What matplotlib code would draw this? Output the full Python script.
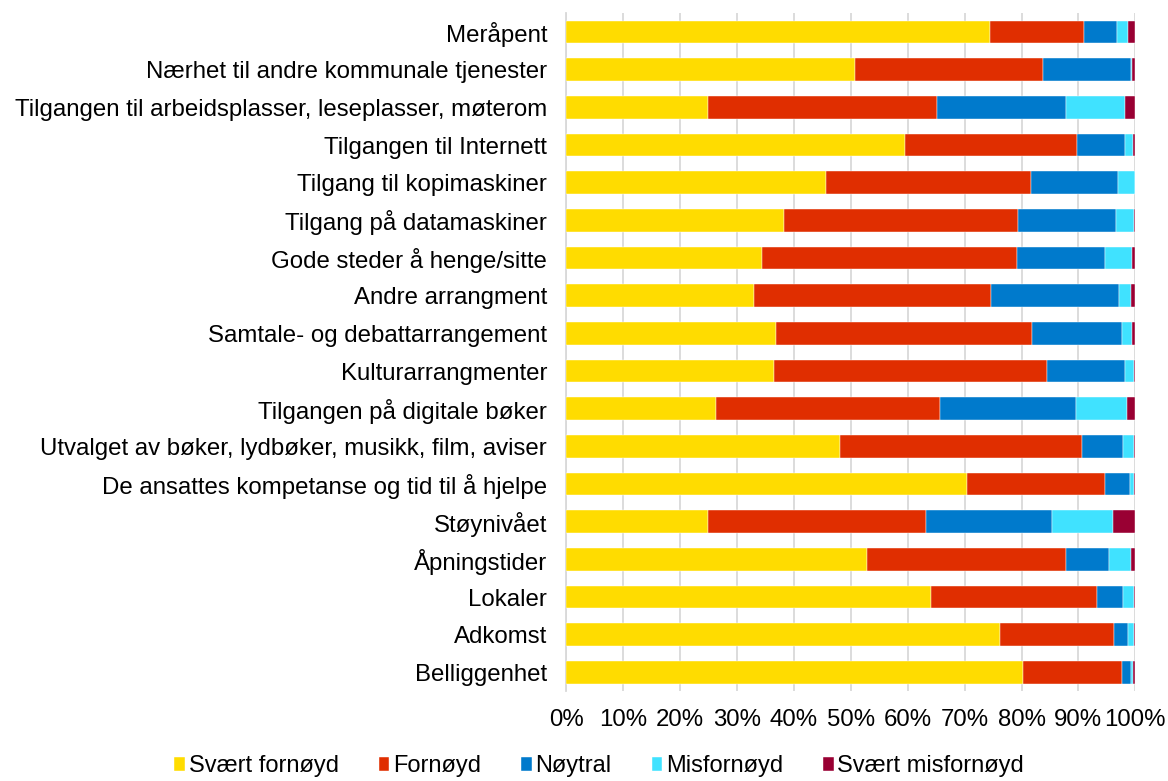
import numpy as np
import matplotlib.pyplot as plt

plt.rcParams['font.family'] = ['Liberation Sans', 'DejaVu Sans']

categories = [
    'Meråpent',
    'Nærhet til andre kommunale tjenester',
    'Tilgangen til arbeidsplasser, leseplasser, møterom',
    'Tilgangen til Internett',
    'Tilgang til kopimaskiner',
    'Tilgang på datamaskiner',
    'Gode steder å henge/sitte',
    'Andre arrangment',
    'Samtale- og debattarrangement',
    'Kulturarrangmenter',
    'Tilgangen på digitale bøker',
    'Utvalget av bøker, lydbøker, musikk, film, aviser',
    'De ansattes kompetanse og tid til å hjelpe',
    'Støynivået',
    'Åpningstider',
    'Lokaler',
    'Adkomst',
    'Belliggenhet',
]

# share of answers in percent, one list per answer option
svaert_fornoyd = [74.4, 50.8, 24.9, 59.5, 45.6, 38.2, 34.3, 32.9, 36.9, 36.5,
                  26.3, 48.0, 70.5, 24.8, 52.9, 64.0, 76.3, 80.2]
fornoyd = [16.6, 32.9, 40.2, 30.2, 36.0, 41.2, 44.9, 41.7, 44.9, 47.9,
           39.3, 42.6, 24.1, 38.4, 34.9, 29.2, 19.9, 17.4]
noytral = [5.7, 15.5, 22.8, 8.5, 15.4, 17.2, 15.4, 22.6, 15.9, 13.8,
           24.0, 7.3, 4.4, 22.1, 7.6, 4.7, 2.6, 1.6]
misfornoyd = [2.0, 0.3, 10.3, 1.4, 2.9, 3.1, 4.9, 2.1, 1.8, 1.6,
              8.9, 1.8, 0.8, 10.7, 3.9, 1.8, 0.9, 0.4]
svaert_misfornoyd = [1.3, 0.5, 1.8, 0.4, 0.1, 0.3, 0.5, 0.7, 0.5, 0.2,
                     1.5, 0.3, 0.2, 4.0, 0.7, 0.3, 0.3, 0.4]

series = [
    ('Svært fornøyd', svaert_fornoyd, '#FFDC00'),
    ('Fornøyd', fornoyd, '#E02E00'),
    ('Nøytral', noytral, '#007ACC'),
    ('Misfornøyd', misfornoyd, '#40E2FF'),
    ('Svært misfornøyd', svaert_misfornoyd, '#990033'),
]

fig = plt.figure(figsize=(11.68, 7.81), dpi=100)
ax = fig.add_axes([0.485, 0.115, 0.487, 0.868])

y = np.arange(len(categories))
left = np.zeros(len(categories))
for name, vals, color in series:
    vals = np.array(vals)
    ax.barh(y, vals, left=left, height=0.6, color=color, label=name,
            edgecolor='white', linewidth=0.3, zorder=3)
    left += vals

ax.set_xlim(0, 100)
ax.set_ylim(len(categories) - 0.5, -0.5)
ax.set_yticks(y)
ax.set_yticklabels(categories, fontsize=17.3)
ax.set_xticks(np.arange(0, 101, 10))
ax.set_xticklabels([f'{v}%' for v in range(0, 101, 10)], fontsize=17.3)
ax.tick_params(axis='y', length=0, pad=14)
ax.tick_params(axis='x', length=0, pad=13)

ax.grid(axis='x', color='#d9d9d9', linewidth=1.3, zorder=0)
for s in ['top', 'right', 'bottom']:
    ax.spines[s].set_visible(False)
ax.spines['left'].set_color('#d9d9d9')
ax.spines['left'].set_linewidth(1.3)

fig.legend(loc='center', bbox_to_anchor=(0.513, 0.019), ncol=5, frameon=False,
           fontsize=17, handlelength=0.45, handleheight=0.55,
           handletextpad=0.15, columnspacing=1.7)

fig.savefig('out.png', dpi=100)
